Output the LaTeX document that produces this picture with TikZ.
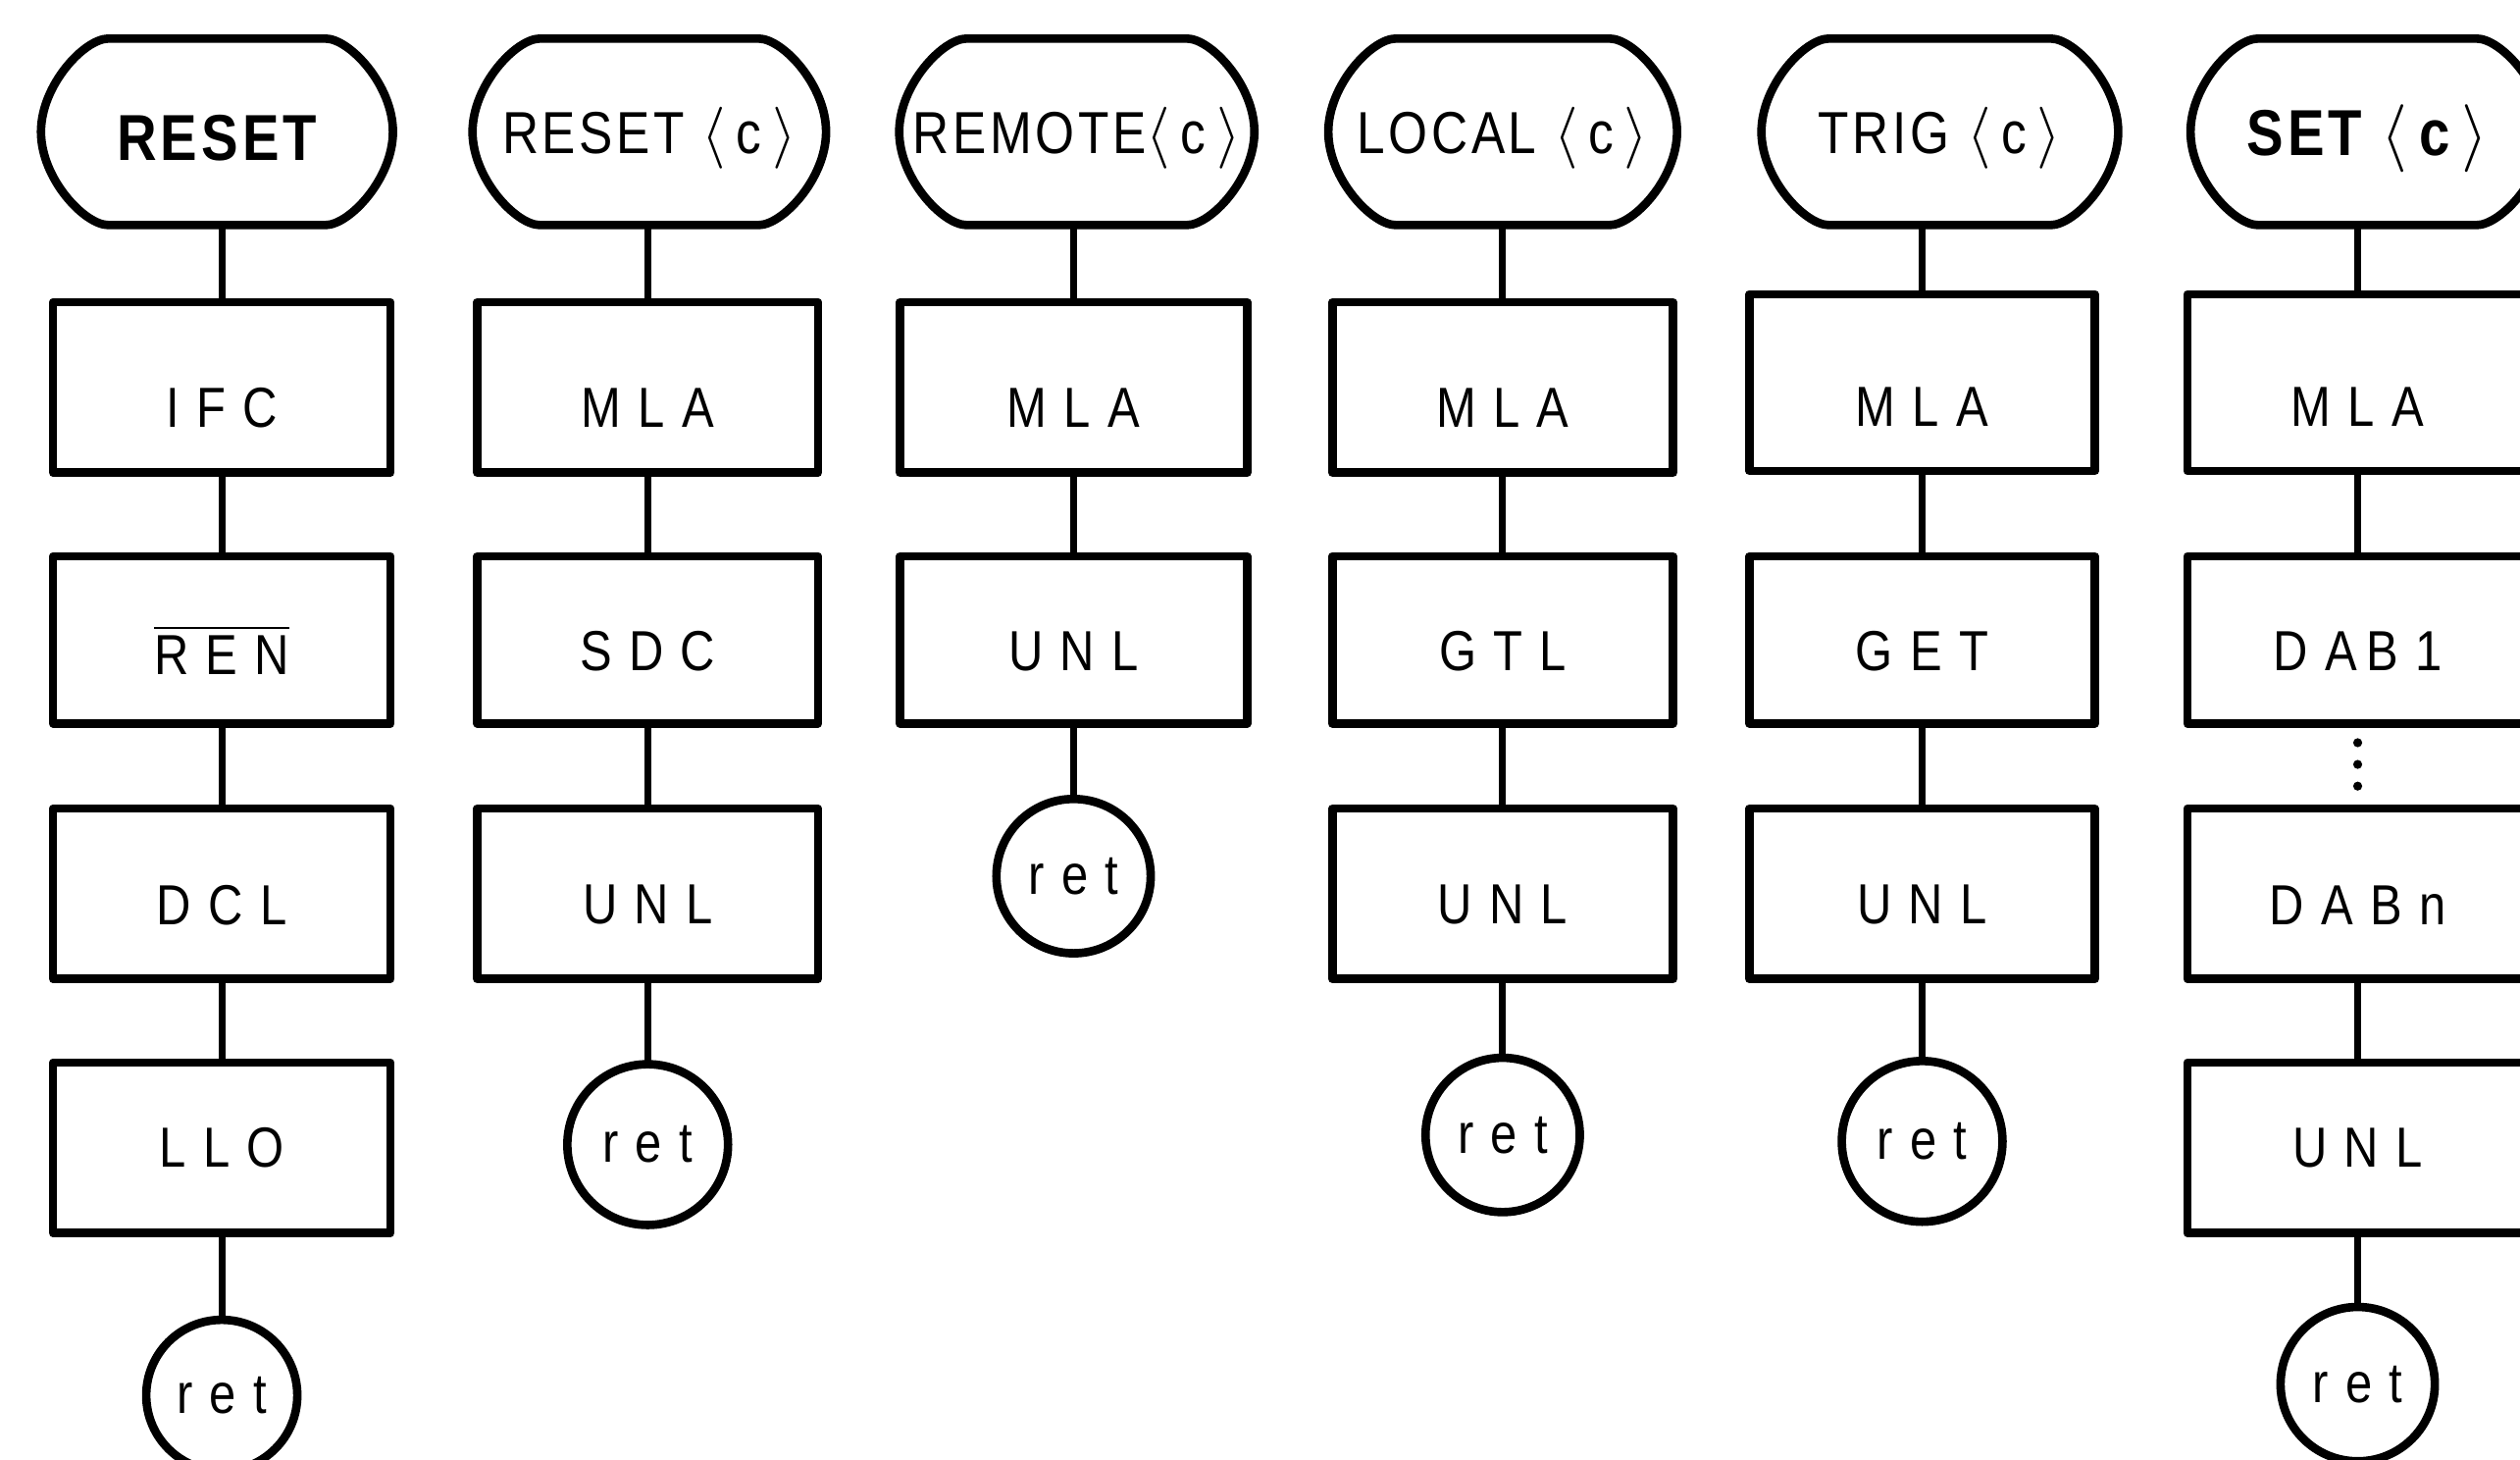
\documentclass[tikz,border=0pt]{standalone}
\usepackage{fontspec}
\setmainfont{Liberation Sans}
\newfontfamily\boxfont[FakeStretch=0.85,LetterSpace=30]{Liberation Sans}
\newfontfamily\termfont[FakeStretch=0.85,LetterSpace=6]{Liberation Sans}
\newcommand\angc{\ensuremath{\langle\,}c\ensuremath{\,\rangle}}
\newcommand\dn[2]{\raisebox{-#1}[\height][\depth]{#2}}
\tikzset{
  x=0.1mm,y=0.1mm,
  shapeline/.style={line width=1.5pt,line join=round},
  conn/.style={line width=1.2pt},
  dotconn/.style={line width=1.6pt,line cap=round,dash pattern=on 0pt off 1.35mm},
  termnode/.style={rectangle,draw=none,inner sep=0pt,outer sep=0pt,minimum height=11.6mm,font=\termfont\fontsize{10.5}{12}\selectfont},
  stepbox/.style={rectangle,draw,shapeline,inner sep=0pt,outer sep=0pt,minimum width=21.2mm,font=\boxfont\fontsize{10}{12}\selectfont},
  retnode/.style={circle,draw,shapeline,inner sep=0pt,outer sep=0pt,font=\boxfont\fontsize{10}{12}\selectfont},
}
\newcommand\termshape[1]{%
  \draw[shapeline] ([xshift=4.2mm]#1.north west) -- ([xshift=-4.2mm]#1.north east)
    .. controls ([xshift=-2.7mm]#1.north east) and ([yshift=2.9mm]#1.east) .. (#1.east)
    .. controls ([yshift=-2.9mm]#1.east) and ([xshift=-2.7mm]#1.south east) .. ([xshift=-4.2mm]#1.south east)
    -- ([xshift=4.2mm]#1.south west)
    .. controls ([xshift=2.7mm]#1.south west) and ([yshift=-2.9mm]#1.west) .. (#1.west)
    .. controls ([yshift=2.9mm]#1.west) and ([xshift=2.7mm]#1.north west) .. ([xshift=4.2mm]#1.north west) -- cycle;}
\begin{document}
\begin{tikzpicture}
\useasboundingbox (0,0) rectangle (1568,-908);
\clip (0,0) rectangle (1568,-908);
\fill[white] (0,0) rectangle (1568,-908);

% terminals
\node[termnode,minimum width=21.9mm] (t1) at (135,-82) {\dn{0.4mm}{\fontsize{11.5}{13}\selectfont\bfseries RESET}};
\node[termnode,minimum width=22.0mm] (t2) at (404,-82) {\dn{0.4mm}{RESET \angc}};
\node[termnode,minimum width=22.1mm] (t3) at (670,-82) {\dn{0.4mm}{REMOTE\angc}};
\node[termnode,minimum width=21.7mm] (t4) at (935,-82) {\dn{0.4mm}{LOCAL \angc}};
\node[termnode,minimum width=22.2mm] (t5) at (1207,-82) {\dn{0.4mm}{TRIG \angc}};
\node[termnode,minimum width=22.0mm] (t6) at (1473,-82) {\dn{0.4mm}{\fontsize{11.5}{13}\selectfont\bfseries SET \angc}};
\foreach \t in {t1,t2,t3,t4,t5,t6} {\termshape{\t}}

% column 1
\node[stepbox,minimum width=21.0mm,minimum height=10.6mm] (b11) at (138,-241) {\dn{1.3mm}{IFC}};
\node[stepbox,minimum width=21.0mm,minimum height=10.4mm] (b12) at (138,-398) {\dn{0.6mm}{$\overline{\hbox{REN}}$}};
\node[stepbox,minimum width=21.0mm,minimum height=10.6mm] (b13) at (138,-556) {\dn{0.7mm}{DCL}};
\node[stepbox,minimum width=21.0mm,minimum height=10.6mm] (b14) at (138,-714) {LLO};
\node[retnode,minimum size=9.4mm] (r1) at (138,-868) {ret};

% column 2
\node[stepbox,minimum height=10.6mm] (b21) at (403,-241) {\dn{1.3mm}{MLA}};
\node[stepbox,minimum height=10.4mm] (b22) at (403,-398) {\dn{0.7mm}{SDC}};
\node[stepbox,minimum height=10.6mm] (b23) at (403,-556) {\dn{0.7mm}{UNL}};
\node[retnode,minimum size=10mm] (r2) at (403,-712) {ret};

% column 3
\node[stepbox,minimum width=21.6mm,minimum height=10.6mm] (b31) at (668,-241) {\dn{1.3mm}{MLA}};
\node[stepbox,minimum width=21.6mm,minimum height=10.4mm] (b32) at (668,-398) {\dn{0.7mm}{UNL}};
\node[retnode,minimum size=9.6mm] (r3) at (668,-545) {ret};

% column 4
\node[stepbox,minimum height=10.6mm] (b41) at (935,-241) {\dn{1.3mm}{MLA}};
\node[stepbox,minimum height=10.4mm] (b42) at (935,-398) {\dn{0.7mm}{GTL}};
\node[stepbox,minimum height=10.6mm] (b43) at (935,-556) {\dn{0.7mm}{UNL}};
\node[retnode,minimum size=9.6mm] (r4) at (935,-706) {ret};

% column 5
\node[stepbox,minimum width=21.5mm,minimum height=11.0mm] (b51) at (1196,-238) {\dn{1.5mm}{MLA}};
\node[stepbox,minimum width=21.5mm,minimum height=10.4mm] (b52) at (1196,-398) {\dn{0.7mm}{GET}};
\node[stepbox,minimum width=21.5mm,minimum height=10.6mm] (b53) at (1196,-556) {\dn{0.7mm}{UNL}};
\node[retnode,minimum size=10mm] (r5) at (1196,-710) {ret};

% column 6
\node[stepbox,minimum height=11.0mm] (b61) at (1467,-238) {\dn{1.5mm}{MLA}};
\node[stepbox,minimum height=10.4mm] (b62) at (1467,-398) {\dn{0.7mm}{DA\,B1}};
\node[stepbox,minimum height=10.6mm] (b63) at (1467,-556) {\dn{0.7mm}{DABn}};
\node[stepbox,minimum height=10.6mm] (b64) at (1467,-714) {UNL};
\node[retnode,minimum size=9.6mm] (r6) at (1467,-861) {ret};

% connectors
\draw[conn] (b11.north) -- (b11.north |- t1.south);
\draw[conn] (b21.north) -- (b21.north |- t2.south);
\draw[conn] (b31.north) -- (b31.north |- t3.south);
\draw[conn] (b41.north) -- (b41.north |- t4.south);
\draw[conn] (b51.north) -- (b51.north |- t5.south);
\draw[conn] (b61.north) -- (b61.north |- t6.south);

\draw[conn] (b11.south) -- (b12.north);
\draw[conn] (b12.south) -- (b13.north);
\draw[conn] (b13.south) -- (b14.north);
\draw[conn] (b14.south) -- (r1.north);

\draw[conn] (b21.south) -- (b22.north);
\draw[conn] (b22.south) -- (b23.north);
\draw[conn] (b23.south) -- (r2.north);

\draw[conn] (b31.south) -- (b32.north);
\draw[conn] (b32.south) -- (r3.north);

\draw[conn] (b41.south) -- (b42.north);
\draw[conn] (b42.south) -- (b43.north);
\draw[conn] (b43.south) -- (r4.north);

\draw[conn] (b51.south) -- (b52.north);
\draw[conn] (b52.south) -- (b53.north);
\draw[conn] (b53.south) -- (r5.north);

\draw[conn] (b61.south) -- (b62.north);
\draw[dotconn] ([yshift=-1.2mm]b62.south) -- ([yshift=0.6mm]b63.north);
\draw[conn] (b63.south) -- (b64.north);
\draw[conn] (b64.south) -- (r6.north);
\end{tikzpicture}
\end{document}
